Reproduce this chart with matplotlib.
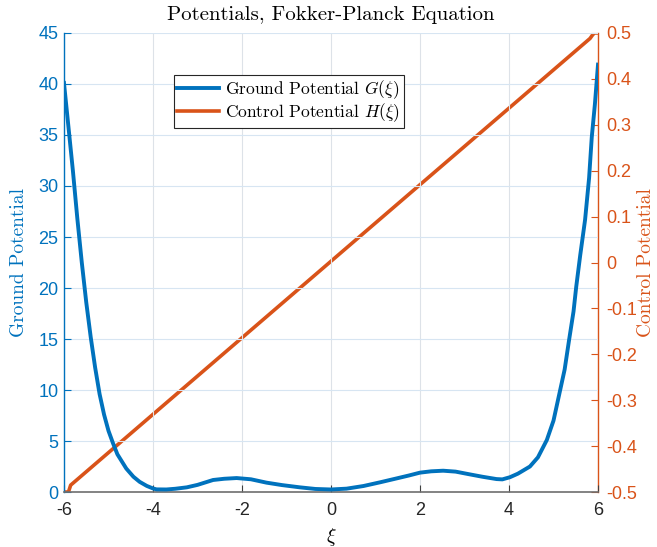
import matplotlib
matplotlib.use("Agg")
import matplotlib.pyplot as plt

plt.rcParams['mathtext.fontset'] = 'cm'
plt.rcParams['axes.unicode_minus'] = False

# ground potential G(xi)
xi_g = [-6.0, -5.9, -5.8, -5.7, -5.6, -5.5, -5.4, -5.3, -5.2, -5.1, -5.0, -4.9,
        -4.8, -4.6, -4.44, -4.3, -4.14, -4.0, -3.92, -3.7, -3.5, -3.24, -3.0,
        -2.65, -2.4, -2.12, -1.8, -1.45, -1.1, -0.7, -0.35, 0.0, 0.35, 0.73,
        1.1, 1.48, 1.75, 2.0, 2.25, 2.52, 2.8, 3.12, 3.4, 3.72, 3.85, 4.02,
        4.2, 4.47, 4.65, 4.85, 5.0, 5.15, 5.25, 5.35, 5.45, 5.51, 5.6, 5.71,
        5.8, 5.86, 5.93, 6.0]
g_vals = [40.1, 35.8, 31.5, 26.8, 22.5, 18.6, 15.2, 12.2, 9.6, 7.6, 6.0, 4.8,
          3.7, 2.3, 1.5, 1.0, 0.6, 0.35, 0.26, 0.25, 0.32, 0.46, 0.7,
          1.18, 1.3, 1.37, 1.25, 0.92, 0.68, 0.46, 0.3, 0.25, 0.33, 0.59,
          0.95, 1.34, 1.62, 1.9, 2.03, 2.09, 2.0, 1.73, 1.5, 1.27, 1.24, 1.45,
          1.8, 2.5, 3.4, 5.1, 7.0, 10.0, 12.0, 14.9, 17.7, 20.1, 23.2, 26.7,
          30.8, 34.8, 38.0, 41.9]

# control potential H(xi)
xi_h = [-6.0, -5.9, -5.85, 5.82, 5.88, 5.92, 6.0]
h_vals = [-0.5, -0.5, -0.485, 0.488, 0.496, 0.5, 0.5]

blue = '#0072BD'
orange = '#D95319'

fig = plt.figure(figsize=(6.57, 5.47), dpi=100)
ax = fig.add_axes([0.0974, 0.1005, 0.8128, 0.8392])
ax2 = ax.twinx()

l1, = ax.plot(xi_g, g_vals, color=blue, lw=2.8, zorder=3)
l2, = ax2.plot(xi_h, h_vals, color=orange, lw=2.6, zorder=3)

ax.set_xlim(-6, 6)
ax.set_ylim(0, 45)
ax2.set_ylim(-0.5, 0.5)
ax.set_xticks(range(-6, 7, 2))
ax.set_yticks(range(0, 46, 5))
ax2.set_yticks([i / 10 for i in range(-5, 6)])
ax2.set_yticklabels(['%g' % (i / 10) for i in range(-5, 6)])

# grid
for xv in range(-6, 7, 2):
    ax.axvline(xv, color='#dde2e8', lw=0.8, zorder=0)
for yv in range(5, 46, 5):
    ax.axhline(yv, color='#d7e5f2', lw=0.8, zorder=0)

ax.tick_params(axis='x', direction='in', length=5, width=0.8, colors='#404040',
               labelsize=13, pad=7)
ax.tick_params(axis='y', direction='in', length=5, width=0.8, colors=blue,
               labelsize=13, pad=4)
ax2.tick_params(axis='y', direction='in', length=5, width=0.8, colors=orange,
                labelsize=13, pad=6)
for lab in ax.get_xticklabels() + ax.get_yticklabels() + ax2.get_yticklabels():
    lab.set_fontfamily('Liberation Sans')
for lab in ax.get_xticklabels():
    lab.set_color('#262626')

for a in (ax, ax2):
    a.spines['top'].set_visible(False)
ax.spines['bottom'].set_color('#6e6e6e')
ax.spines['bottom'].set_linewidth(1.2)
ax2.spines['bottom'].set_visible(False)
ax.spines['left'].set_color(blue)
ax2.spines['left'].set_visible(False)
ax.spines['right'].set_visible(False)
ax2.spines['right'].set_color(orange)
ax2.spines['right'].set_linewidth(1.0)
ax.spines['left'].set_linewidth(1.0)

serif = 'cmr10'
ax.set_title('Potentials, Fokker-Planck Equation', fontfamily=serif,
             fontsize=15, pad=9)
ax.set_xlabel(r'$\xi$', fontsize=14, labelpad=5)
ax.set_ylabel('Ground Potential', fontfamily=serif, fontsize=14, color=blue)
ax.yaxis.set_label_coords(-0.067, 0.5)
ax2.set_ylabel('Control Potential', fontfamily=serif, fontsize=14, color=orange)
ax2.yaxis.set_label_coords(1.074, 0.5)

leg = ax.legend([l1, l2], [r'Ground Potential $G(\xi)$', r'Control Potential $H(\xi)$'],
                loc='upper left', bbox_to_anchor=(0.206, 0.908), fancybox=False,
                framealpha=1, edgecolor='#262626', prop={'family': serif, 'size': 12.5},
                handlelength=2.4, borderpad=0.2, labelspacing=0.0,
                handletextpad=0.35, borderaxespad=0)
leg.get_frame().set_linewidth(0.8)
ax.set_zorder(ax2.get_zorder() + 1)
ax.patch.set_visible(False)

fig.savefig('out.png', dpi=100)
